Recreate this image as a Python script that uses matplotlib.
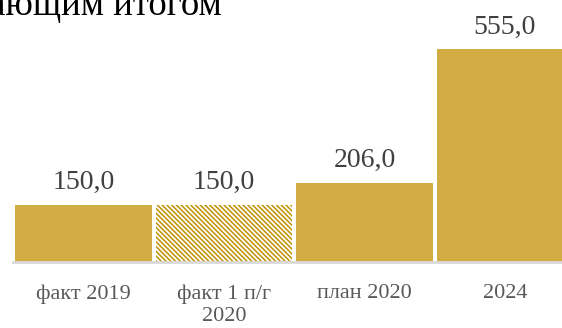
import matplotlib
matplotlib.use("Agg")
import matplotlib.pyplot as plt

# Данные диаграммы
категории = ["факт 2019", "факт 1 п/г\n2020", "план 2020", "2024"]
значения = [150.0, 150.0, 206.0, 555.0]
штриховка = [False, True, False, False]

цвет_столбца = "#D1AC42"
цвет_штриховки = "#C09000"

plt.rcParams["font.family"] = ["Liberation Serif", "DejaVu Serif"]
plt.rcParams["hatch.linewidth"] = 1.1

fig = plt.figure(figsize=(5.62, 3.28), dpi=100)
ax = fig.add_axes([0, 66 / 328, 1, 262 / 328])

x = list(range(len(категории)))
for i, v in enumerate(значения):
    if штриховка[i]:
        ax.bar(x[i], v, width=0.97, facecolor="white", edgecolor=цвет_штриховки,
               hatch="\\" * 7, linewidth=0)
    else:
        ax.bar(x[i], v, width=0.97, color=цвет_столбца, linewidth=0)
    ax.annotate(f"{v:.1f}".replace(".", ","), (x[i], v), xytext=(0, 16),
                textcoords="offset pixels", ha="center", va="baseline",
                fontsize=20, color="#404040")

ax.set_xlim(-0.594, 3.406)
ax.set_ylim(0, 684)

ax.set_xticks(x)
ax.set_xticklabels(категории, fontsize=16, color="#595959")
ax.tick_params(axis="x", length=0, pad=16)
ax.set_yticks([])

for s in ["top", "right", "left"]:
    ax.spines[s].set_visible(False)
ax.spines["bottom"].set_color("#D9D9D9")
ax.spines["bottom"].set_linewidth(2)
ax.spines["bottom"].set_bounds(-0.594 + 13 / 140.5, 3.406)

# Заголовок (обрезан слева)
fig.text(222 / 562, 1 - 15 / 328, "нарастающим итогом", ha="right", va="baseline",
         fontsize=26.5, color="black")

fig.savefig("out.png", dpi=100)
